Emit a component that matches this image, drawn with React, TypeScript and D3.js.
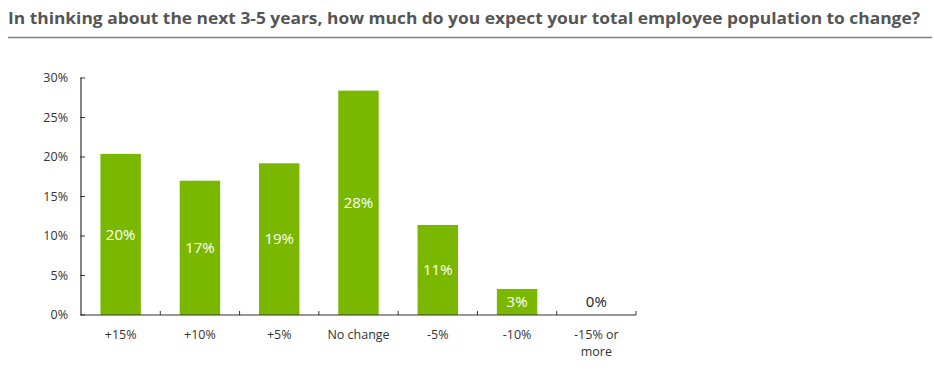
import React from "react";
import * as d3 from "d3";

const categories = ["+15%", "+10%", "+5%", "No change", "-5%", "-10%", "-15% or more"];
const values = [20.4, 17.0, 19.2, 28.4, 11.4, 3.3, 0];
const valueLabels = ["20%", "17%", "19%", "28%", "11%", "3%", "0%"];
const yTicks = [0, 5, 10, 15, 20, 25, 30];

const W = 934;
const H = 372;
const GREEN = "#7ab800";
const FONT = "'Open Sans', 'Noto Sans', sans-serif";

export default function App() {
  const x = d3.scaleBand<string>().domain(categories).range([81, 636]).paddingInner(0.49).paddingOuter(0.245);
  const y = d3.scaleLinear().domain([0, 30]).range([315, 78]);
  const step = x.step();
  const x0 = 81;

  return (
    <svg width={W} height={H} style={{ position: "absolute", left: 0, top: 0, background: "white" }}>
      <text
        x={8}
        y={24}
        fontFamily="'Open Sans', sans-serif"
        fontWeight={700}
        fontSize={16.5}
        fill="#555"
        textLength={912}
        lengthAdjust="spacingAndGlyphs"
      >
        In thinking about the next 3-5 years, how much do you expect your total employee population to change?
      </text>
      <line x1={8} x2={932} y1={37.5} y2={37.5} stroke="#808080" strokeWidth={1.5} />

      {categories.map((c, i) => {
        const v = values[i];
        const bx = x(c)!;
        const top = y(v);
        const h = y(0) - top;
        return (
          <g key={c}>
            {v > 0 && <rect x={bx} y={top} width={x.bandwidth()} height={h} fill={GREEN} />}
            <text
              x={bx + x.bandwidth() / 2}
              y={v > 0 ? top + h / 2 : y(0) - 13}
              dy="0.35em"
              textAnchor="middle"
              fontFamily={FONT}
              fontSize={15}
              fill={v > 0 ? "white" : "#222"}
            >
              {valueLabels[i]}
            </text>
          </g>
        );
      })}

      {/* y axis */}
      <line x1={x0} x2={x0} y1={y(30)} y2={y(0)} stroke="#333" strokeWidth={1.2} />
      {yTicks.map((t) => (
        <g key={t}>
          <line x1={x0 - 1} x2={x0 + 4} y1={y(t)} y2={y(t)} stroke="#333" strokeWidth={1} />
          <text x={x0 - 13} y={y(t)} dy="0.35em" textAnchor="end" fontFamily={FONT} fontSize={12.5} fill="#333">
            {t}%
          </text>
        </g>
      ))}

      {/* x axis */}
      <line x1={x0} x2={636} y1={y(0)} y2={y(0)} stroke="#333" strokeWidth={1.2} />
      {categories.map((c, i) => (
        <line key={"t" + c} x1={x0 + step * (i + 1)} x2={x0 + step * (i + 1)} y1={y(0) - 4} y2={y(0)} stroke="#333" strokeWidth={1} />
      ))}
      {categories.map((c) => {
        const cx = x(c)! + x.bandwidth() / 2;
        const lines = c === "-15% or more" ? ["-15% or", "more"] : [c];
        return (
          <text key={"l" + c} x={cx} y={339} textAnchor="middle" fontFamily={FONT} fontSize={12.5} fill="#333">
            {lines.map((l, j) => (
              <tspan key={j} x={cx} dy={j === 0 ? 0 : 17}>
                {l}
              </tspan>
            ))}
          </text>
        );
      })}
    </svg>
  );
}
